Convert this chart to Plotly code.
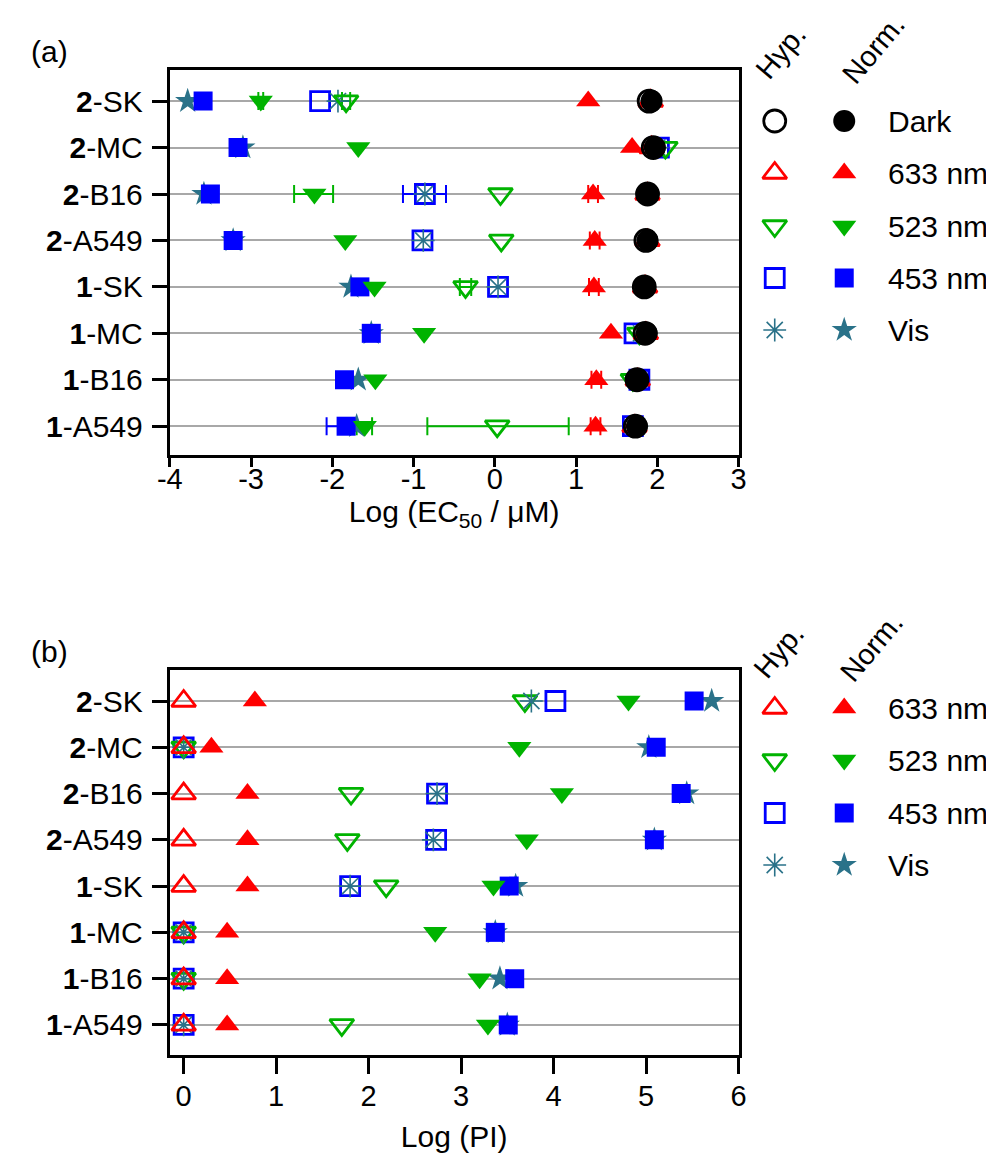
import plotly.graph_objects as go

# ---------------- data ----------------
categories = ["1-A549", "1-B16", "1-MC", "1-SK", "2-A549", "2-B16", "2-MC", "2-SK"]
cat_labels = ["<b>1</b>-A549", "<b>1</b>-B16", "<b>1</b>-MC", "<b>1</b>-SK",
              "<b>2</b>-A549", "<b>2</b>-B16", "<b>2</b>-MC", "<b>2</b>-SK"]

# Panel (a): Log(EC50 / uM)
ec50_dark_hyp = [1.73, 1.75, 1.85, 1.84, 1.86, 1.88, 1.95, 1.90]
ec50_dark_norm = [1.75, 1.75, 1.87, 1.85, 1.88, 1.89, 1.97, 1.93]
ec50_633_hyp = [1.72, 1.76, 1.86, 1.85, 1.88, 1.88, 1.93, 1.92]
ec50_633_norm = [1.24, 1.25, 1.43, 1.22, 1.23, 1.21, 1.69, 1.15]
ec50_523_hyp = [0.03, 1.70, 1.78, -0.36, 0.08, 0.07, 2.10, -1.83]
ec50_523_norm = [-1.60, -1.47, -0.87, -1.48, -1.84, -2.22, -1.68, -2.88]
ec50_453_hyp = [1.70, 1.78, 1.72, 0.04, -0.89, -0.86, 2.02, -2.15]
ec50_453_norm = [-1.83, -1.85, -1.52, -1.66, -3.22, -3.50, -3.16, -3.59]
ec50_vis_hyp = [1.75, 1.76, 1.80, 0.04, -0.88, -0.86, 2.00, -1.93]
ec50_vis_norm = [-1.70, -1.68, -1.52, -1.77, -3.22, -3.58, -3.10, -3.78]

# error bars (minus, plus); None = no bar drawn
err_633_norm_minus = [0.06, 0.06, None, 0.06, 0.06, 0.06, None, None]
err_633_norm_plus = [0.06, 0.06, None, 0.06, 0.06, 0.06, None, None]
err_523_hyp_minus = [0.86, None, None, 0.07, None, None, None, 0.05]
err_523_hyp_plus = [0.88, None, None, 0.07, None, None, None, 0.05]
err_523_norm_minus = [0.10, None, None, None, None, 0.25, None, 0.03]
err_523_norm_plus = [0.09, None, None, None, None, 0.23, None, 0.03]
err_453_hyp_minus = [None, None, None, None, None, 0.27, None, None]
err_453_hyp_plus = [None, None, None, None, None, 0.26, None, None]
err_453_norm_minus = [0.24, None, None, None, None, None, None, None]
err_453_norm_plus = [0.05, None, None, None, None, None, None, None]

# Panel (b): Log(PI)
pi_633_hyp = [0, 0, 0, 0, 0, 0, 0, 0]
pi_633_norm = [0.47, 0.47, 0.47, 0.69, 0.69, 0.69, 0.30, 0.77]
pi_523_hyp = [1.71, 0, 0, 2.19, 1.77, 1.81, 0, 3.69]
pi_523_norm = [3.29, 3.20, 2.72, 3.35, 3.71, 4.09, 3.63, 4.81]
pi_453_hyp = [0, 0, 0, 1.80, 2.73, 2.74, 0, 4.02]
pi_453_norm = [3.51, 3.58, 3.37, 3.52, 5.09, 5.38, 5.11, 5.52]
pi_vis_hyp = [0, 0, 0, 1.80, 2.70, 2.74, 0, 3.76]
pi_vis_norm = [3.50, 3.42, 3.37, 3.59, 5.09, 5.44, 5.03, 5.71]

ticks_a = [-4, -3, -2, -1, 0, 1, 2, 3]
ticks_b = [0, 1, 2, 3, 4, 5, 6]

legend_a_labels = ["Dark", "633 nm", "523 nm", "453 nm", "Vis"]
legend_b_labels = ["633 nm", "523 nm", "453 nm", "Vis"]

# ---------------- styles ----------------
RED = "#ff0000"
GREEN = "#00b300"
BLUE = "#0000ff"
TEAL = "#2a7289"
BLACK = "#000000"
FONT = "Liberation Sans, Arial, sans-serif"

style = {
    "dark_hyp": dict(symbol="circle-open", size=22, color=BLACK, line=dict(color=BLACK, width=2.8)),
    "dark_norm": dict(symbol="circle", size=22, color=BLACK, line=dict(width=0)),
    "633_hyp": dict(symbol="triangle-up-open", size=21, color=RED, line=dict(color=RED, width=2.8)),
    "633_norm": dict(symbol="triangle-up", size=21, color=RED, line=dict(width=0)),
    "523_hyp": dict(symbol="triangle-down-open", size=21, color=GREEN, line=dict(color=GREEN, width=2.8)),
    "523_norm": dict(symbol="triangle-down", size=21, color=GREEN, line=dict(width=0)),
    "453_hyp": dict(symbol="square-open", size=19, color=BLUE, line=dict(color=BLUE, width=2.8)),
    "453_norm": dict(symbol="square", size=19, color=BLUE, line=dict(width=0)),
    "vis_hyp": dict(symbol="asterisk-open", size=19, color=TEAL, line=dict(color=TEAL, width=1.6)),
    "vis_norm": dict(symbol="star", size=19, color=TEAL, line=dict(width=0)),
}

ypos = list(range(len(categories)))
fig = go.Figure()


def add_err(xs, minus, plus, color, xa, ya):
    idx = [i for i in range(len(xs)) if minus[i] is not None]
    if not idx:
        return
    fig.add_trace(go.Scatter(
        x=[xs[i] for i in idx], y=[ypos[i] for i in idx], mode="markers",
        marker=dict(size=1, color="rgba(0,0,0,0)"),
        error_x=dict(type="data", symmetric=False,
                     array=[plus[i] for i in idx], arrayminus=[minus[i] for i in idx],
                     color=color, thickness=2, width=9),
        xaxis=xa, yaxis=ya, showlegend=False, hoverinfo="skip"))


def add_pts(xs, key, xa, ya):
    fig.add_trace(go.Scatter(x=xs, y=ypos, mode="markers", marker=style[key],
                             xaxis=xa, yaxis=ya, showlegend=False))


# Panel (a)
add_err(ec50_633_norm, err_633_norm_minus, err_633_norm_plus, RED, "x", "y")
add_err(ec50_523_hyp, err_523_hyp_minus, err_523_hyp_plus, GREEN, "x", "y")
add_err(ec50_523_norm, err_523_norm_minus, err_523_norm_plus, GREEN, "x", "y")
add_err(ec50_453_hyp, err_453_hyp_minus, err_453_hyp_plus, BLUE, "x", "y")
add_err(ec50_453_norm, err_453_norm_minus, err_453_norm_plus, BLUE, "x", "y")
for xs, key in [(ec50_453_hyp, "453_hyp"), (ec50_vis_hyp, "vis_hyp"), (ec50_523_hyp, "523_hyp"),
                (ec50_633_hyp, "633_hyp"), (ec50_vis_norm, "vis_norm"), (ec50_453_norm, "453_norm"),
                (ec50_523_norm, "523_norm"), (ec50_633_norm, "633_norm"),
                (ec50_dark_hyp, "dark_hyp"), (ec50_dark_norm, "dark_norm")]:
    add_pts(xs, key, "x", "y")

# Panel (b)
for xs, key in [(pi_vis_norm, "vis_norm"), (pi_453_norm, "453_norm"), (pi_523_norm, "523_norm"),
                (pi_633_norm, "633_norm"), (pi_453_hyp, "453_hyp"), (pi_523_hyp, "523_hyp"),
                (pi_vis_hyp, "vis_hyp"), (pi_633_hyp, "633_hyp")]:
    add_pts(xs, key, "x2", "y2")

# Legends (overlay axis in pixel units)
W, H = 994, 1159
leg_hyp_x, leg_norm_x, leg_txt_x = 770, 841, 884
leg_a_rows = [113, 165, 218, 270, 322]
leg_b_rows = [700, 752, 805, 857]
leg_a_keys = ["dark", "633", "523", "453", "vis"]
leg_b_keys = ["633", "523", "453", "vis"]

annotations = []
for rows, keys, labels in [(leg_a_rows, leg_a_keys, legend_a_labels),
                           (leg_b_rows, leg_b_keys, legend_b_labels)]:
    for yy, k, lab in zip(rows, keys, labels):
        for xx, suffix in [(leg_hyp_x, "_hyp"), (leg_norm_x, "_norm")]:
            fig.add_trace(go.Scatter(x=[xx], y=[yy], mode="markers", marker=style[k + suffix],
                                     xaxis="x3", yaxis="y3", showlegend=False, hoverinfo="skip"))
        annotations.append(dict(x=leg_txt_x, y=yy, xref="x3", yref="y3", text=lab, showarrow=False,
                                xanchor="left", yanchor="middle", font=dict(size=30, family=FONT, color=BLACK)))

for (hx, hy, nx, ny) in [(776, 44, 871, 41), (774, 643, 869, 639)]:
    annotations.append(dict(x=hx, y=hy, xref="x3", yref="y3", text="Hyp.", showarrow=False,
                            textangle=-50, font=dict(size=29, family=FONT, color=BLACK)))
    annotations.append(dict(x=nx, y=ny, xref="x3", yref="y3", text="Norm.", showarrow=False,
                            textangle=-50, font=dict(size=29, family=FONT, color=BLACK)))

annotations.append(dict(x=8, y=43, xref="x3", yref="y3", text="(a)", showarrow=False,
                        xanchor="left", font=dict(size=30, family=FONT, color=BLACK)))
annotations.append(dict(x=8, y=643, xref="x3", yref="y3", text="(b)", showarrow=False,
                        xanchor="left", font=dict(size=30, family=FONT, color=BLACK)))

xdom = [152 / W, 733 / W]
ya_dom = [1 - 447 / H, 1 - 62 / H]
yb_dom = [1 - 1047 / H, 1 - 662 / H]

axis_common = dict(showline=True, mirror=True, linewidth=3, linecolor=BLACK, ticks="outside",
                   tickwidth=3, tickcolor=BLACK, zeroline=False)
xfont = dict(size=29, family=FONT, color=BLACK)
yfont = dict(size=30, family=FONT, color=BLACK)

fig.update_layout(
    width=W, height=H, margin=dict(l=0, r=0, t=0, b=0),
    paper_bgcolor="white", plot_bgcolor="rgba(0,0,0,0)",
    font=dict(family=FONT, color=BLACK),
    xaxis=dict(domain=xdom, anchor="y", range=[-4, 3], tickvals=ticks_a,
               ticktext=[str(t) for t in ticks_a], showgrid=False, ticklen=9, ticklabelstandoff=-13,
               tickfont=xfont,
               title=dict(text="Log (EC<sub>50</sub> / μM)", font=dict(size=30, family=FONT), standoff=1),
               **axis_common),
    yaxis=dict(domain=ya_dom, anchor="x", range=[-0.62, 7.67], tickvals=ypos, ticktext=cat_labels,
               showgrid=True, gridcolor="#a8a8a8", gridwidth=2, ticklen=15, ticklabelstandoff=3,
               tickfont=yfont, **axis_common),
    xaxis2=dict(domain=xdom, anchor="y2", range=[-0.15, 6], tickvals=ticks_b,
                ticktext=[str(t) for t in ticks_b], showgrid=False, ticklen=16, ticklabelstandoff=-3,
                tickfont=xfont,
                title=dict(text="Log (PI)", font=dict(size=30, family=FONT), standoff=16),
                **axis_common),
    yaxis2=dict(domain=yb_dom, anchor="x2", range=[-0.65, 7.67], tickvals=ypos, ticktext=cat_labels,
                showgrid=True, gridcolor="#a8a8a8", gridwidth=2, ticklen=15, ticklabelstandoff=3,
                tickfont=yfont, **axis_common),
    xaxis3=dict(domain=[0, 1], anchor="y3", range=[0, W], visible=False, fixedrange=True),
    yaxis3=dict(domain=[0, 1], anchor="x3", range=[H, 0], visible=False, fixedrange=True),
    annotations=annotations,
)

fig.write_html("out.html")
